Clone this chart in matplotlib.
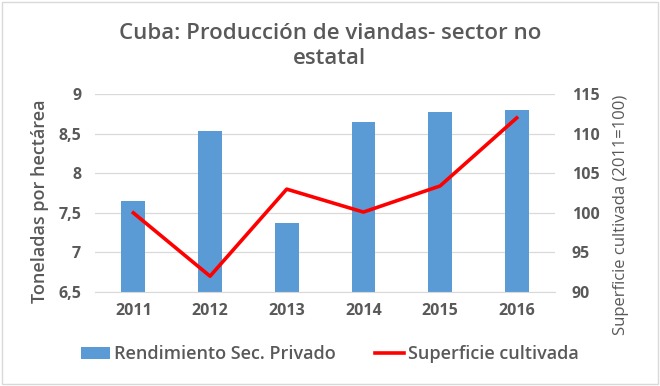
import matplotlib.pyplot as plt
import numpy as np
from matplotlib.patches import Rectangle

plt.rcParams['font.family'] = ['Open Sans', 'DejaVu Sans']

years = ['2011', '2012', '2013', '2014', '2015', '2016']
rendimiento = [7.65, 8.53, 7.37, 8.65, 8.77, 8.80]
superficie = [100, 92, 103, 100.1, 103.4, 112]

gray = '#595959'

fig = plt.figure(figsize=(6.6, 3.86), dpi=100)
ax = fig.add_axes([0.144, 0.2435, 0.697, 0.5125])
ax2 = ax.twinx()

x = np.arange(len(years))
ax.bar(x, rendimiento, width=0.31, color='#5B9BD5', zorder=2,
       label='Rendimiento Sec. Privado')
ax2.plot(x, superficie, color='#FF0000', linewidth=2.6, zorder=3,
         label='Superficie cultivada')

ax.set_xlim(-0.5, len(years) - 0.5)
ax.set_ylim(6.5, 9)
ax.set_yticks([6.5, 7, 7.5, 8, 8.5, 9])
ax.set_yticklabels(['6,5', '7', '7,5', '8', '8,5', '9'])
ax2.set_ylim(90, 115)
ax2.set_yticks([90, 95, 100, 105, 110, 115])

ax.set_xticks(x)
ax.set_xticklabels(years)
ax.grid(axis='y', color='#D9D9D9', linewidth=0.9, zorder=0)
ax.set_axisbelow(True)

for a in (ax, ax2):
    for s in a.spines.values():
        s.set_visible(False)
    a.tick_params(length=0, colors=gray, labelsize=11.5)
    for lab in a.get_xticklabels() + a.get_yticklabels():
        lab.set_fontweight('bold')
ax.spines['bottom'].set_visible(True)
ax.spines['bottom'].set_color('#D9D9D9')
ax.tick_params(axis='y', pad=10)
ax.tick_params(axis='x', pad=8)
ax2.tick_params(axis='y', pad=12)

ax.set_ylabel('Toneladas por hectárea', fontsize=13, color=gray,
              fontweight='semibold')
ax.yaxis.set_label_coords(-0.10, 0.46)
ax2.set_ylabel('Superficie cultivada (2011=100)', fontsize=12, color=gray)
ax2.yaxis.set_label_coords(1.125, 0.39)

fig.text(0.5, 0.88, 'Cuba: Producción de viandas- sector no\nestatal',
         ha='center', va='center', fontsize=16, color=gray,
         linespacing=1.25, fontweight='semibold')

h1, l1 = ax.get_legend_handles_labels()
h2, l2 = ax2.get_legend_handles_labels()
leg = fig.legend(h1 + h2, l1 + l2, loc='center', bbox_to_anchor=(0.5, 0.082),
                 ncol=2, frameon=False, fontsize=13, columnspacing=2.2,
                 handlelength=1.6, handletextpad=0.2)
for t in leg.get_texts():
    t.set_color(gray)
    t.set_fontweight('semibold')

fig.patches.append(Rectangle((0.003, 0.005), 0.994, 0.99, transform=fig.transFigure,
                             fill=False, edgecolor='#D9D9D9', linewidth=1))

fig.savefig('out.png', dpi=100)
